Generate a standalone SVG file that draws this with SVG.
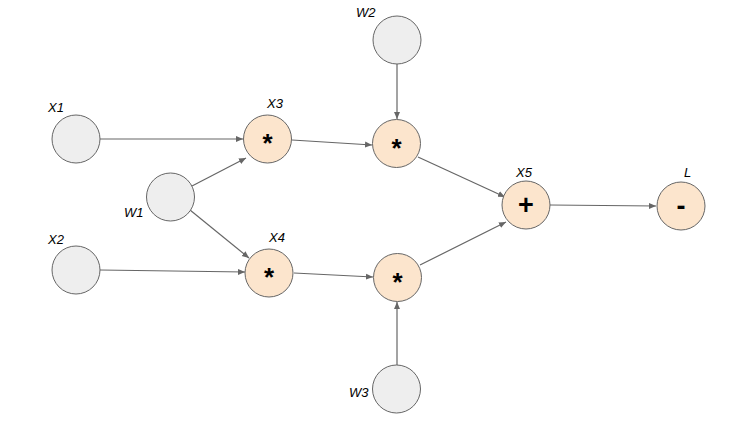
<svg xmlns="http://www.w3.org/2000/svg" width="750" height="433" viewBox="0 0 750 433">
<style>
.in{fill:#eeeeee;stroke:#666666;stroke-width:1}
.op{fill:#fce5cd;stroke:#666666;stroke-width:1}
.lb{font-family:"Liberation Sans",Arial,sans-serif;font-style:italic;font-size:13px;fill:#000}
.sy{font-family:"Liberation Sans",Arial,sans-serif;font-weight:bold;fill:#000;text-anchor:middle}
.ed{stroke:#666666;stroke-width:1.2;fill:none;marker-end:url(#ah)}
</style>
<defs>
<marker id="ah" markerWidth="8" markerHeight="8" refX="7" refY="4" orient="auto" markerUnits="userSpaceOnUse">
<path d="M0,1 L7,4 L0,7 Z" fill="#666666"/>
</marker>
</defs>
<g id="connectors">
<line class="ed" x1="100" y1="139" x2="243" y2="139"/>
<line class="ed" x1="192" y1="186" x2="246" y2="158"/>
<line class="ed" x1="190" y1="210" x2="249" y2="258"/>
<line class="ed" x1="100" y1="270" x2="245" y2="272"/>
<line class="ed" x1="292" y1="140" x2="372" y2="145"/>
<line class="ed" x1="294" y1="273" x2="373" y2="277"/>
<line class="ed" x1="397" y1="64" x2="397" y2="119"/>
<line class="ed" x1="397" y1="365" x2="397" y2="302"/>
<line class="ed" x1="418" y1="157" x2="505" y2="197"/>
<line class="ed" x1="420" y1="265" x2="506" y2="222"/>
<line class="ed" x1="550" y1="205" x2="656" y2="206"/>
</g>
<g id="X1"><circle class="in" cx="76" cy="139" r="24"/><text class="lb" x="48" y="112">X1</text></g>
<g id="X2"><circle class="in" cx="76" cy="270" r="24"/><text class="lb" x="48" y="244">X2</text></g>
<g id="W1"><circle class="in" cx="170.5" cy="197" r="24"/><text class="lb" x="124" y="217">W1</text></g>
<g id="W2"><circle class="in" cx="397" cy="40" r="24"/><text class="lb" x="356" y="17">W2</text></g>
<g id="W3"><circle class="in" cx="396.5" cy="389" r="24"/><text class="lb" x="349" y="397">W3</text></g>
<g id="X3"><circle class="op" cx="267.5" cy="139" r="24"/><text class="lb" x="267" y="108">X3</text><text class="sy" x="267.5" y="152" font-size="26">*</text></g>
<g id="X4"><circle class="op" cx="269" cy="273" r="24"/><text class="lb" x="269" y="242">X4</text><text class="sy" x="269" y="286" font-size="26">*</text></g>
<g id="M1"><circle class="op" cx="396.5" cy="143.5" r="24"/><text class="sy" x="396.5" y="156.5" font-size="26">*</text></g>
<g id="M2"><circle class="op" cx="397.5" cy="277.5" r="24"/><text class="sy" x="397.5" y="290.5" font-size="26">*</text></g>
<g id="X5"><circle class="op" cx="526" cy="205" r="24"/><text class="lb" x="516" y="177">X5</text><text class="sy" x="526" y="214" font-size="27">+</text></g>
<g id="L"><circle class="op" cx="681" cy="206" r="24"/><text class="lb" x="684" y="177">L</text><text class="sy" x="681" y="215" font-size="27">-</text></g>
</svg>
